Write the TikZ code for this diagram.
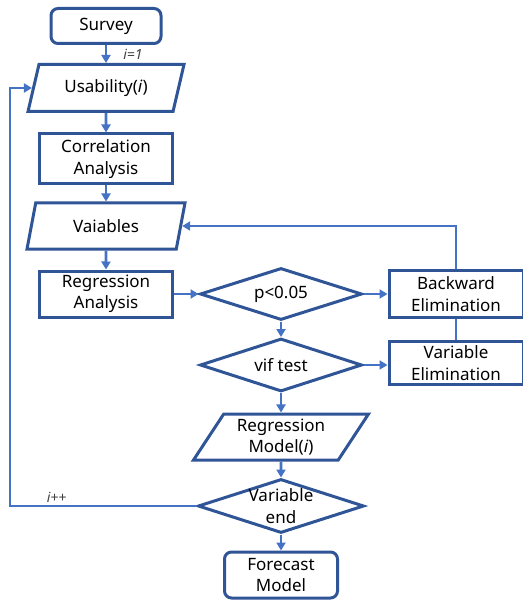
\documentclass[tikz,border=0pt]{standalone}
\usepackage{fontspec}
\setmainfont{Noto Sans}
\usetikzlibrary{shapes.geometric, arrows.meta, positioning}
\definecolor{nodeBlue}{RGB}{47,85,151}
\definecolor{lineBlue}{RGB}{68,114,196}
\tikzset{
    font=\fontsize{17}{21.5}\selectfont,
    >={Triangle[length=8pt, width=9pt]},
    % Shapes
    base/.style={draw=nodeBlue, line width=3pt, align=center, inner sep=1pt},
    termBox/.style={base, rectangle, rounded corners=7pt},
    procBox/.style={base, rectangle},
    ioBox/.style={base, trapezium, trapezium stretches body,
                  trapezium left angle=60, trapezium right angle=120},
    decision/.style={base, diamond, aspect=3, inner sep=0pt},
    % Flow & Labels
    flow/.style={->, line width=2.6pt, lineBlue},
    link/.style={line width=2.6pt, lineBlue},
    lbl/.style={font=\fontsize{14}{16}\selectfont, text=black!75, inner sep=2pt}
}

\begin{document}
\begin{tikzpicture}[x=1pt, y=-1pt]
\useasboundingbox (0,0) rectangle (522,601);

\node[termBox, minimum width=110, minimum height=35] (survey) at (106,26) {Survey};
\node[ioBox, minimum width=156, minimum height=47] (usab) at (106,88) {Usability(\textit{i})};
\node[procBox, minimum width=133, minimum height=50] (corr) at (106,159) {Correlation\\Analysis};
\node[ioBox, minimum width=158, minimum height=46] (vars) at (106,226) {Vaiables};
\node[procBox, minimum width=133, minimum height=46] (regr) at (106,294) {Regression\\Analysis};
\node[decision, minimum width=162, minimum height=52] (pval) at (281,294) {p<0.05};
\node[procBox, minimum width=134, minimum height=47] (back) at (456,294) {Backward\\Elimination};
\node[decision, minimum width=162, minimum height=53] (vif) at (281,365) {vif test};
\node[procBox, minimum width=134, minimum height=43] (velim) at (456,363) {Variable\\Elimination};
\node[ioBox, trapezium left angle=52, trapezium right angle=128,
      minimum width=175, minimum height=46] (model) at (281,437) {Regression\\Model(\textit{i})};
\node[decision, minimum width=166, minimum height=54,
      label={[align=center]center:{Variable\\end}}] (vend) at (281,506) {};
\node[termBox, minimum width=113, minimum height=46] (fcast) at (281,575) {Forecast\\Model};
\coordinate (loopx) at (10,0);

\draw[flow] (survey) -- node[lbl, right=14pt] {\textit{i=1}} (usab);
\draw[flow] (usab) -- (corr);
\draw[flow] (corr) -- (vars);
\draw[flow] (vars) -- (regr);
\draw[flow] (regr) -- (pval);
\draw[flow] (pval) -- (back);
\draw[flow] (back.north) |- (vars.east);
\draw[link] (back) -- (velim);
\draw[flow] (pval) -- (vif);
\draw[flow] (vif.east) -- (vif.east -| velim.west);
\draw[flow] (vif) -- (model);
\draw[flow] (model) -- (vend);
\draw[flow] (vend) -- (fcast);
\draw[flow] (vend.west) -- node[lbl, above, pos=0.75] {\textit{i++}} (vend.west -| loopx) |- (usab.west);

\end{tikzpicture}
\end{document}
